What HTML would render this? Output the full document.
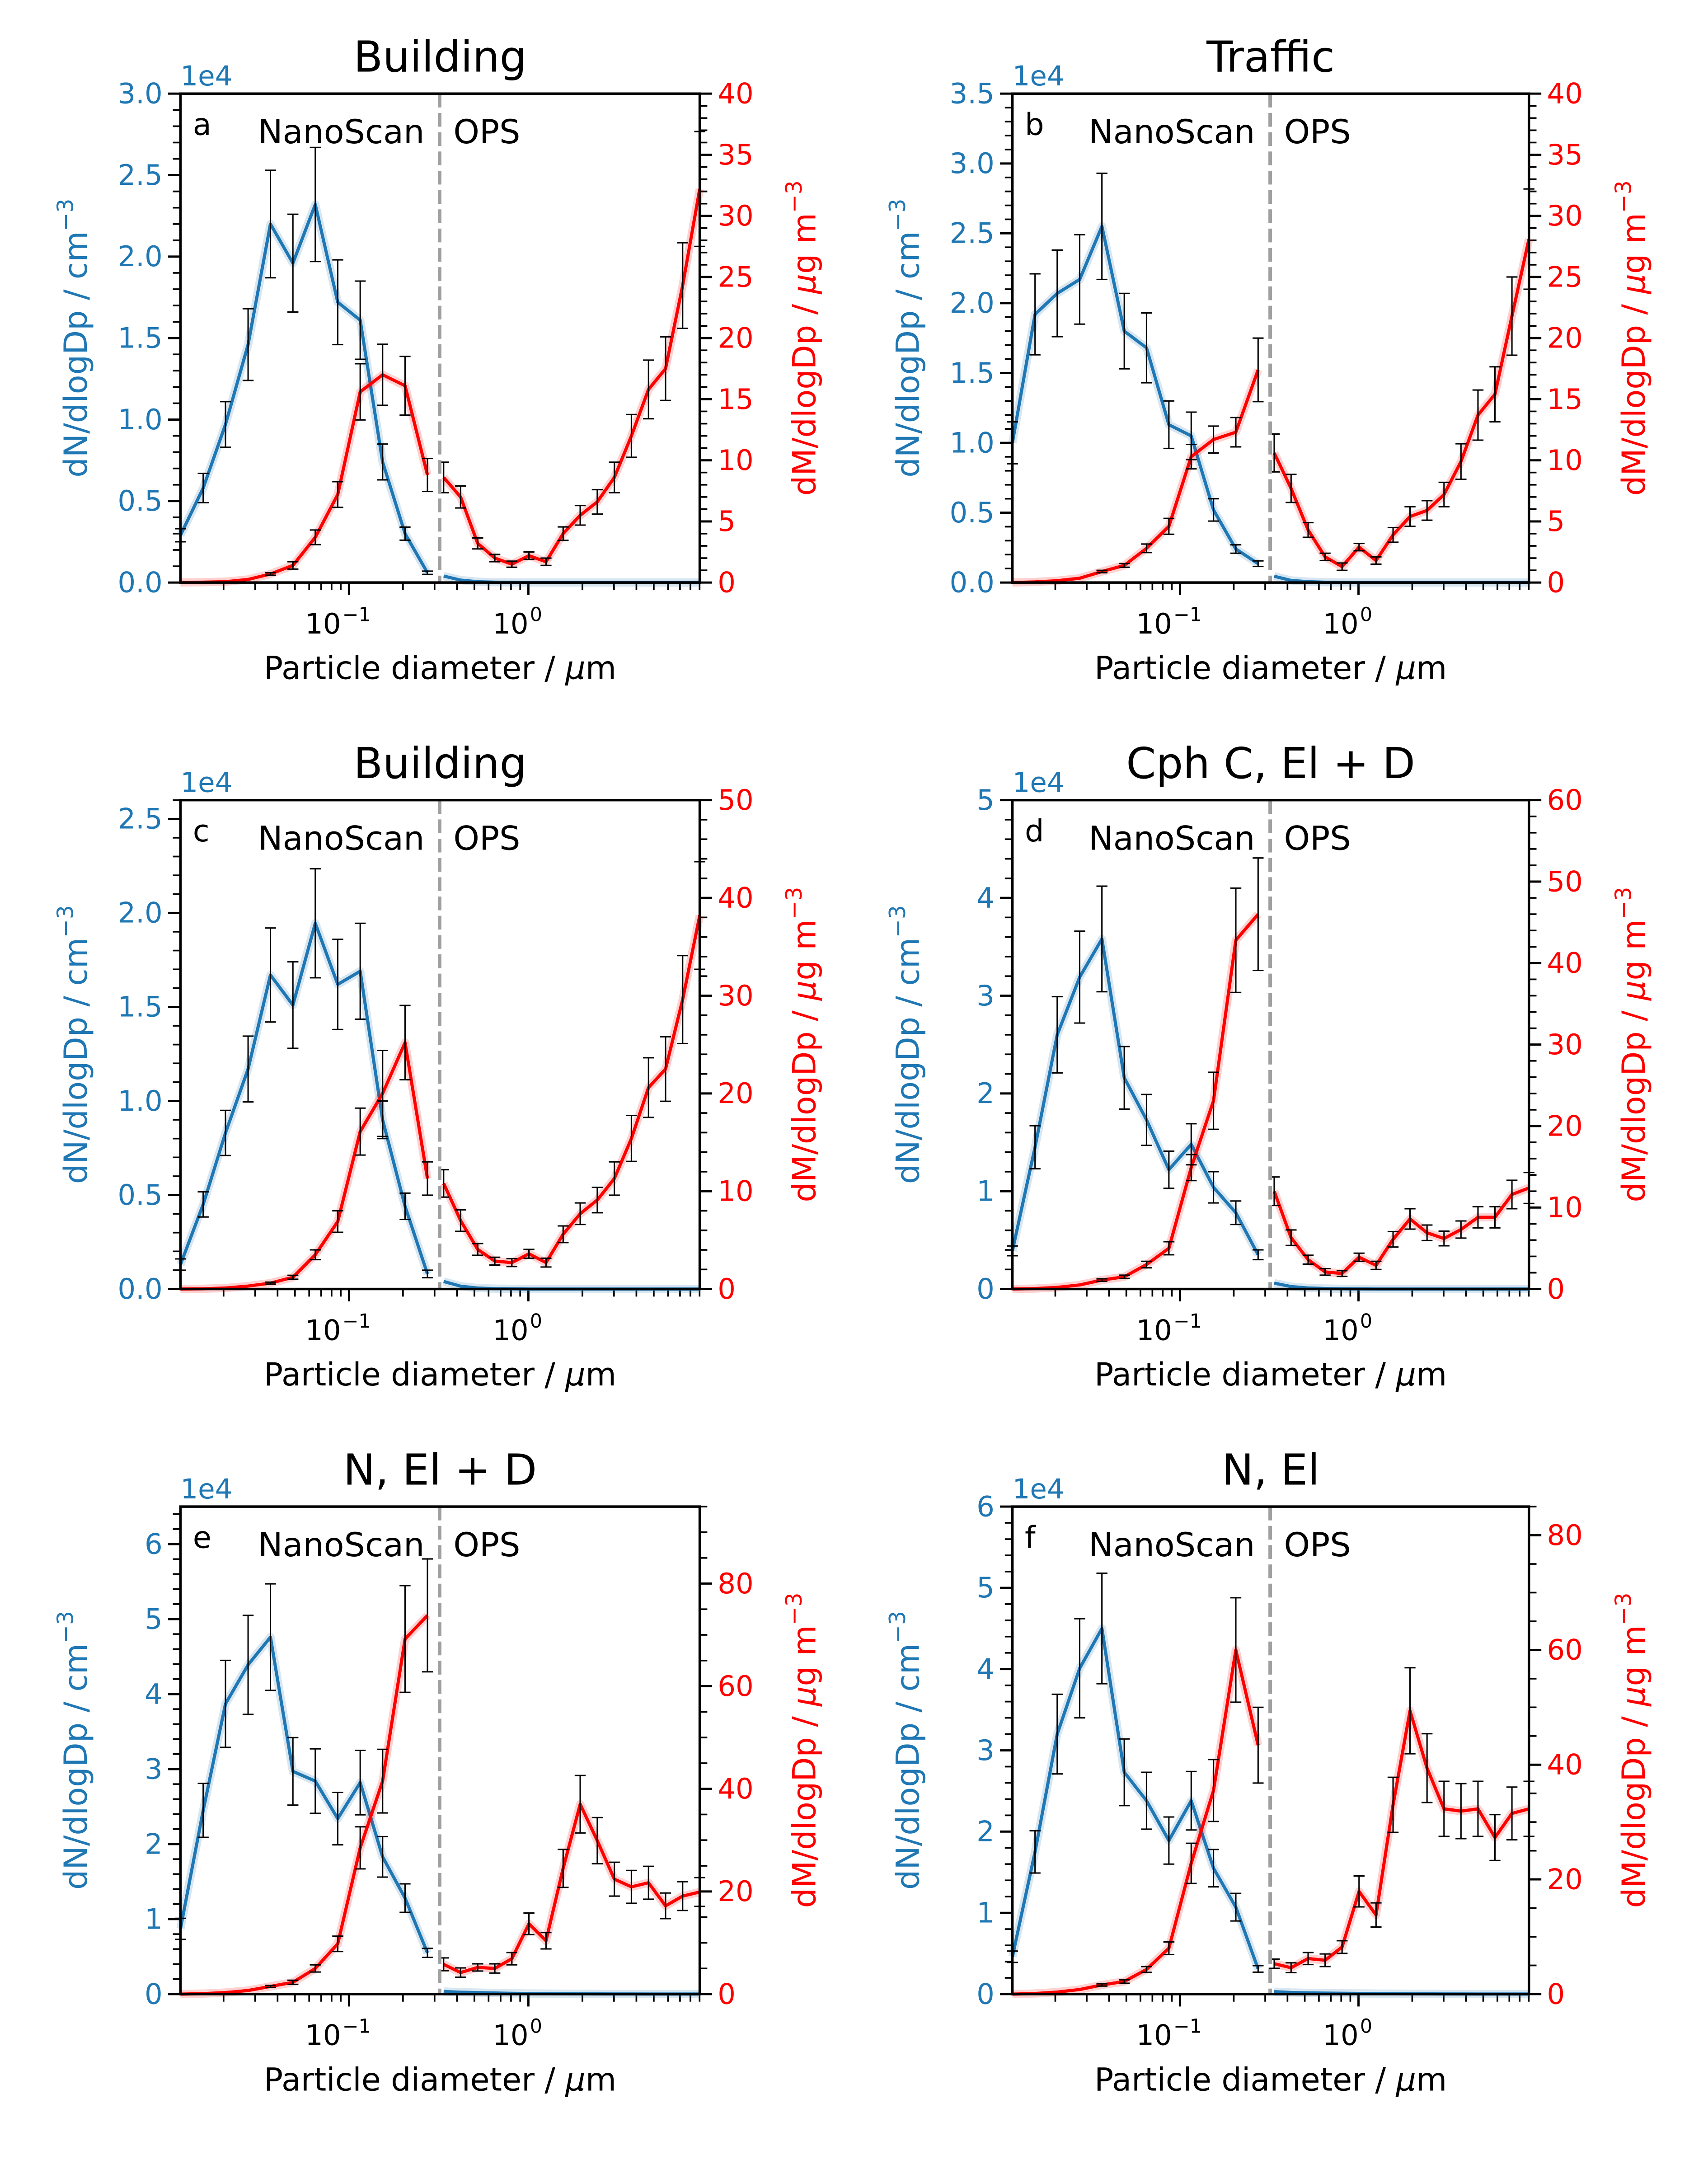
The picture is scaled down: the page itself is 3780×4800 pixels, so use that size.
<!DOCTYPE html>
<html><head><meta charset="utf-8"><title>Particle size distributions</title>
<style>
html,body{margin:0;padding:0;background:#fff;}
svg{display:block;font-family:"DejaVu Sans","Liberation Sans",sans-serif;}
</style></head>
<body>
<svg id="fig" xmlns="http://www.w3.org/2000/svg" width="3780" height="4800" viewBox="0 0 1240 1575" preserveAspectRatio="none">
<rect x="0" y="0" width="1240" height="1575" fill="#fff"/>
</svg>
<script>
// shared bin diameters (µm)
const nsDiam=[0.0115,0.0154,0.0205,0.0274,0.0365,0.0487,0.0649,0.0866,0.1155,0.154,0.2054,0.2738];
const opsDiam=[0.337,0.419,0.522,0.65,0.809,1.007,1.254,1.562,1.944,2.421,3.014,3.752,4.672,5.816,7.241,9.016];
const xTickValues=[0.1,1];
const xTickExp=["−1","0"];

// panel a
const aN=[0.29,0.58,0.97,1.46,2.2,1.96,2.32,1.72,1.61,0.74,0.30,0.06];
const aNErr=[0.04,0.09,0.14,0.22,0.33,0.30,0.35,0.26,0.24,0.11,0.04,0.01];
const aNOps=[0.04,0.015,0.005,0.002,0.001,0,0,0,0,0,0,0,0,0,0,0];
const aM=[0,0.03,0.07,0.25,0.7,1.4,3.7,7.2,15.6,17.0,16.1,8.8];
const aMErr=[0,0,0,0,0.1,0.3,0.6,1.05,2.3,2.5,2.4,1.35];
const aMO=[8.6,7.0,3.2,2.0,1.5,2.2,1.7,4.0,5.5,6.6,8.6,12.0,15.8,17.5,24.3,32.2];
const aMOErr=[1.25,0.9,0.45,0.3,0.25,0.3,0.3,0.55,0.8,1.0,1.25,1.75,2.4,2.6,3.5,4.7];
// panel b
const bN=[1.0,1.92,2.07,2.17,2.55,1.8,1.68,1.13,1.05,0.52,0.24,0.135];
const bNErr=[0.15,0.29,0.31,0.32,0.38,0.27,0.25,0.17,0.17,0.08,0.03,0.02];
const bNOps=[0.045,0.015,0.006,0.002,0.001,0,0,0,0,0,0,0,0,0,0,0];
const bM=[0,0.05,0.15,0.35,0.9,1.4,2.8,4.6,10.3,11.7,12.3,17.4];
const bMErr=[0,0,0,0,0.1,0.15,0.35,0.65,1.0,1.1,1.2,2.6];
const bMO=[10.6,7.7,4.3,2.1,1.3,2.9,1.8,3.9,5.4,5.9,7.2,9.9,13.7,15.4,21.8,28.1];
const bMOErr=[1.55,1.15,0.6,0.3,0.3,0.3,0.3,0.6,0.8,0.8,1.0,1.45,2.05,2.25,3.2,4.1];
// panel c
const cN=[0.13,0.45,0.83,1.17,1.67,1.51,1.945,1.62,1.69,0.9,0.44,0.08];
const cNErr=[0.03,0.067,0.12,0.175,0.25,0.23,0.29,0.24,0.255,0.1,0.07,0.02];
const cNOps=[0.04,0.015,0.005,0.002,0.001,0,0,0,0,0,0,0,0,0,0,0];
const cM=[0,0.02,0.1,0.3,0.6,1.2,3.5,6.9,16.1,20.0,25.2,11.3];
const cMErr=[0,0,0,0,0.1,0.2,0.5,1.1,2.4,4.4,3.8,1.7];
const cMO=[10.8,7.0,4.05,2.85,2.7,3.6,2.7,5.6,7.7,9.1,11.3,15.4,20.6,22.5,29.6,38.2];
const cMOErr=[1.4,1.1,0.6,0.4,0.4,0.45,0.45,0.85,1.1,1.3,1.7,2.35,3.05,3.3,4.5,5.5];
// panel d
const dN=[0.39,1.45,2.6,3.19,3.58,2.16,1.73,1.22,1.48,1.04,0.78,0.35];
const dNErr=[0.05,0.22,0.39,0.47,0.54,0.32,0.26,0.19,0.21,0.16,0.12,0.05];
const dNOps=[0.06,0.025,0.01,0.005,0.002,0.001,0,0,0,0,0,0,0,0,0,0];
const dM=[0,0.05,0.2,0.5,1.1,1.5,3.0,5.0,14.9,23.1,42.8,46.0];
const dMErr=[0,0,0,0,0.15,0.2,0.4,0.8,1.6,3.5,6.4,6.9];
const dMO=[12.0,6.3,3.6,2.1,1.9,3.9,2.9,6.1,8.6,6.9,6.2,7.3,8.8,8.8,11.6,12.4];
const dMOErr=[1.75,0.95,0.55,0.4,0.35,0.5,0.5,0.95,1.25,0.95,0.9,1.05,1.3,1.3,1.75,1.9];
// panel e
const eN=[0.87,2.45,3.87,4.39,4.76,2.97,2.84,2.34,2.82,1.83,1.28,0.55];
const eNErr=[0.14,0.36,0.58,0.66,0.71,0.45,0.43,0.35,0.43,0.27,0.19,0.06];
const eNOps=[0.035,0.025,0.02,0.015,0.01,0.008,0.006,0.005,0.004,0.003,0.002,0.002,0.001,0.001,0.001,0.001];
const eM=[0,0.1,0.3,0.7,1.5,2.3,5.0,9.8,28.5,41.5,69.2,73.8];
const eMErr=[0,0,0,0,0.2,0.4,0.7,1.5,4.1,6.2,10.4,11.0];
const eMO=[5.8,4.2,5.2,5.0,6.9,13.7,10.4,24.5,37.0,29.9,22.4,20.9,21.7,17.2,19.1,19.9];
const eMOErr=[1.25,0.9,0.7,0.9,1.2,2.1,1.6,3.7,5.6,4.5,3.3,3.2,3.2,2.5,2.8,2.8];
// panel f
const fN=[0.46,1.75,3.2,4.01,4.5,2.73,2.38,1.89,2.38,1.55,1.07,0.31];
const fNErr=[0.07,0.26,0.49,0.61,0.68,0.41,0.35,0.29,0.36,0.23,0.17,0.04];
const fNOps=[0.03,0.02,0.015,0.012,0.01,0.008,0.006,0.005,0.004,0.003,0.002,0.002,0.001,0.001,0.001,0.001];
const fM=[0,0.1,0.35,0.8,1.6,2.2,4.3,8.0,22.8,35.5,60.0,43.4];
const fMErr=[0,0,0,0,0.2,0.3,0.5,1.1,3.5,5.4,9.1,6.6];
const fMO=[5.3,4.6,6.2,5.9,8.2,17.9,13.8,33.0,49.4,39.4,32.3,31.9,32.3,27.3,31.5,32.3];
const fMOErr=[0.8,0.85,1.05,1.1,1.1,2.7,2.1,4.8,7.5,6.0,4.8,4.8,4.8,4.0,4.6,4.8];

const BLUE="#1f77b4", RED="#ff0000";
const svg=document.getElementById('fig');
const NS="http://www.w3.org/2000/svg";
function mk(tag,attrs,parent,text){
  const e=document.createElementNS(NS,tag);
  for(const k in attrs) e.setAttribute(k,attrs[k]);
  if(text!==undefined) e.textContent=text;
  (parent||svg).appendChild(e);
  return e;
}
const panels=[
 {id:'a',title:'Building',x0:131,x1:508,y0:68,y1:423,nMax:3.0,nStep:0.5,nMinor:0.1,nDec:1,mMax:40,mStep:5,mMinor:1,n:aN,nE:aNErr,no:aNOps,m:aM,mE:aMErr,mo:aMO,moE:aMOErr},
 {id:'b',title:'Traffic',x0:735,x1:1110,y0:68,y1:423,nMax:3.5,nStep:0.5,nMinor:0.1,nDec:1,mMax:40,mStep:5,mMinor:1,n:bN,nE:bNErr,no:bNOps,m:bM,mE:bMErr,mo:bMO,moE:bMOErr},
 {id:'c',title:'Building',x0:131,x1:508,y0:581,y1:936,nMax:2.6,nStep:0.5,nMinor:0.1,nDec:1,mMax:50,mStep:10,mMinor:2,n:cN,nE:cNErr,no:cNOps,m:cM,mE:cMErr,mo:cMO,moE:cMOErr},
 {id:'d',title:'Cph C, El + D',x0:735,x1:1110,y0:581,y1:936,nMax:5,nStep:1,nMinor:0.2,nDec:0,mMax:60,mStep:10,mMinor:2,n:dN,nE:dNErr,no:dNOps,m:dM,mE:dMErr,mo:dMO,moE:dMOErr},
 {id:'e',title:'N, El + D',x0:131,x1:508,y0:1094,y1:1448,nMax:6.5,nStep:1,nMinor:0.2,nDec:0,mMax:95,mStep:20,mMinor:5,n:eN,nE:eNErr,no:eNOps,m:eM,mE:eMErr,mo:eMO,moE:eMOErr},
 {id:'f',title:'N, El',x0:735,x1:1110,y0:1094,y1:1448,nMax:6,nStep:1,nMinor:0.2,nDec:0,mMax:85,mStep:20,mMinor:5,n:fN,nE:fNErr,no:fNOps,m:fM,mE:fMErr,mo:fMO,moE:fMOErr}
];
const LMIN=Math.log10(nsDiam[0]), LMAX=Math.log10(opsDiam[opsDiam.length-1]);

panels.forEach(p=>{
  const g=mk('g',{});
  
  
  const X=d=>p.x0+(Math.log10(d)-LMIN)/(LMAX-LMIN)*(p.x1-p.x0);
  const YN=v=>p.y1-v/p.nMax*(p.y1-p.y0);
  const YM=v=>p.y1-v/p.mMax*(p.y1-p.y0);
  const cx=(p.x0+p.x1)/2;
  const t=mk('text',{x:cx,y:p.y0-16,'text-anchor':'middle','font-size':31,fill:'#000'},g,p.title);
   
  const oe=mk('text',{x:p.x0,y:p.y0-6,'font-size':20,fill:BLUE},g,'1e4');
   
  const lt=mk('g',{},g);  
  for(let v=0; v<=p.nMax+1e-9; v+=p.nMinor){
    const y=YN(v);
    const major=Math.abs(v/p.nStep-Math.round(v/p.nStep))<1e-6;
    mk('line',{x1:p.x0,x2:p.x0-(major?9:5.5),y1:y,y2:y,stroke:'#000','stroke-width':major?1.6:1.2},lt);
    if(major){
      const tl=mk('text',{x:p.x0-13,y:y+7,'text-anchor':'end','font-size':20.5,fill:BLUE},lt,v.toFixed(p.nDec));
       
    }
  }
  const rt=mk('g',{},g);  
  for(let v=0; v<=p.mMax+1e-9; v+=p.mMinor){
    const y=YM(v);
    const major=Math.abs(v/p.mStep-Math.round(v/p.mStep))<1e-6;
    mk('line',{x1:p.x1,x2:p.x1+(major?9:5.5),y1:y,y2:y,stroke:'#000','stroke-width':major?1.6:1.2},rt);
    if(major){
      const tl=mk('text',{x:p.x1+13,y:y+7,'text-anchor':'start','font-size':20.5,fill:RED},rt,String(Math.round(v)));
       
    }
  }
  const xt=mk('g',{},g);  
  for(let k=-2;k<=0;k++){
    for(let m=1;m<=9;m++){
      const d=m*Math.pow(10,k);
      const l=Math.log10(d);
      if(l<LMIN-1e-9||l>LMAX+1e-9) continue;
      const x=X(d);
      mk('line',{x1:x,x2:x,y1:p.y1,y2:p.y1+(m===1?9:5.5),stroke:'#000','stroke-width':m===1?1.6:1.2},xt);
    }
  }
  xTickValues.forEach((v,i)=>{
    const tl=mk('text',{x:X(v)-8,y:p.y1+37,'text-anchor':'middle','font-size':20.5,fill:'#000'},xt,'10');
     
    mk('tspan',{dy:-9,'font-size':14,dx:1},tl,xTickExp[i]);
  });
  const xl=mk('text',{x:cx,y:p.y1+70,'text-anchor':'middle','font-size':23,fill:'#000'},g,'Particle diameter / ');
   
  mk('tspan',{'font-style':'italic'},xl,'μ'); mk('tspan',{},xl,'m');
  const ly=(p.y0+p.y1)/2;
  const yl=mk('text',{x:0,y:0,'text-anchor':'middle','font-size':23,fill:BLUE,transform:`translate(${p.x0-68},${ly}) rotate(-90)`},g,'dN/dlogDp / cm');
   
  mk('tspan',{dy:-10,'font-size':16},yl,'−3');
  const yr=mk('text',{x:0,y:0,'text-anchor':'middle','font-size':23,fill:RED,transform:`translate(${p.x1+84},${ly}) rotate(-90)`},g,'dM/dlogDp / ');
   
  mk('tspan',{'font-style':'italic'},yr,'μ'); mk('tspan',{},yr,'g m');
  mk('tspan',{dy:-10,'font-size':16},yr,'−3');
  const poly=(xs,ys,fy,color,name)=>{
    const pts=xs.map((d,i)=>X(d).toFixed(2)+','+fy(ys[i]).toFixed(2)).join(' ');
    mk('polyline',{points:pts,fill:'none',stroke:color,'stroke-width':6,'stroke-opacity':0.18,'stroke-linejoin':'round'},g);
    const l=mk('polyline',{points:pts,fill:'none',stroke:color,'stroke-width':2.3,'stroke-linejoin':'round'},g);
     
  };
  poly(nsDiam,p.n,YN,BLUE,'nanoscan-number-line');
  poly(opsDiam,p.no,YN,BLUE,'ops-number-line');
  poly(nsDiam,p.m,YM,RED,'nanoscan-mass-line');
  poly(opsDiam,p.mo,YM,RED,'ops-mass-line');
  const eb=(xs,ys,es,fy)=>{
    xs.forEach((d,i)=>{
      if(!es[i]) return;
      const x=X(d), ya=fy(ys[i]-es[i]), yb=fy(ys[i]+es[i]);
      const e=mk('g',{},g);
       
      mk('line',{x1:x,x2:x,y1:ya,y2:yb,stroke:'#000','stroke-width':1},e);
      mk('line',{x1:x-4,x2:x+4,y1:ya,y2:ya,stroke:'#000','stroke-width':1},e);
      mk('line',{x1:x-4,x2:x+4,y1:yb,y2:yb,stroke:'#000','stroke-width':1},e);
    });
  };
  eb(nsDiam,p.n,p.nE,YN);
  eb(nsDiam,p.m,p.mE,YM);
  eb(opsDiam,p.mo,p.moE,YM);
  const xd=X(0.32);
  const dv=mk('line',{x1:xd,x2:xd,y1:p.y0,y2:p.y1,stroke:'#a0a0a0','stroke-width':2.6,'stroke-dasharray':'10,4'},g);
   
  const fr=mk('rect',{x:p.x0,y:p.y0,width:p.x1-p.x0,height:p.y1-p.y0,fill:'none',stroke:'#000','stroke-width':1.8},g);
   
  const pl=mk('text',{x:p.x0+9,y:p.y0+30,'font-size':22,fill:'#000'},g,p.id);
   
  const nsl=mk('text',{x:xd-11,y:p.y0+36,'text-anchor':'end','font-size':24,fill:'#000'},g,'NanoScan');
   
  const opl=mk('text',{x:xd+10,y:p.y0+36,'font-size':24,fill:'#000'},g,'OPS');
   
});
</script>
</body></html>
